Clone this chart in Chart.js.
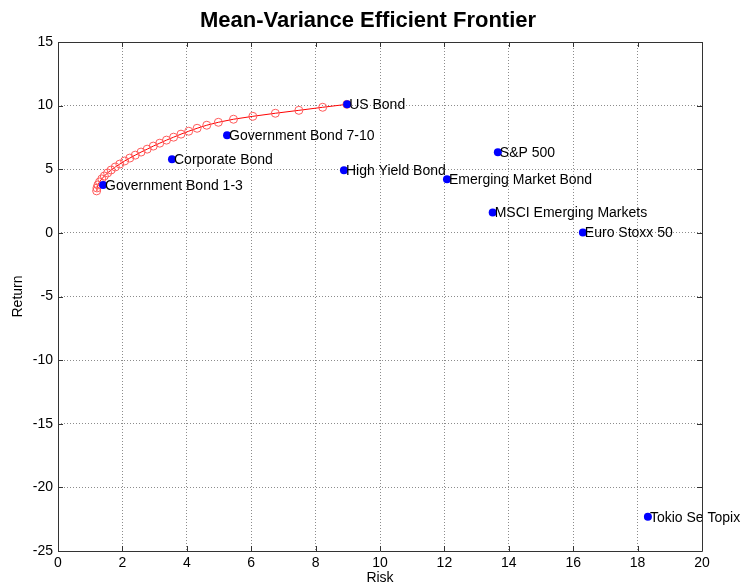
<!DOCTYPE html>
<html>
<head>
<meta charset="utf-8">
<title>Mean-Variance Efficient Frontier</title>
<script src="https://cdn.jsdelivr.net/npm/chart.js@4.4.1/dist/chart.umd.min.js"></script>
<style>
  body { margin: 0; background: #fff; }
  canvas { display: block; }
</style>
</head>
<body>
<canvas id="chart" width="751" height="587"></canvas>
<script>
const assetNames = ["US Bond", "Government Bond 7-10", "Corporate Bond", "Government Bond 1-3",
    "High Yield Bond", "Emerging Market Bond", "S&P 500", "MSCI Emerging Markets",
    "Euro Stoxx 50", "Tokio Se Topix"];
const assetRisk = [8.98, 5.25, 3.54, 1.40, 8.88, 12.08, 13.66, 13.50, 16.30, 18.32];
const assetReturn = [10.10, 7.68, 5.79, 3.77, 4.92, 4.21, 6.34, 1.61, 0.03, -22.30];

const frontierRisk = [1.20, 1.21, 1.24, 1.29, 1.36, 1.44, 1.54, 1.65, 1.78, 1.92,
    2.07, 2.23, 2.40, 2.58, 2.77, 2.96, 3.16, 3.37, 3.59, 3.82,
    4.06, 4.32, 4.62, 4.98, 5.45, 6.05, 6.75, 7.48, 8.22, 8.97];
const frontierReturn = [3.30, 3.53, 3.77, 4.00, 4.24, 4.47, 4.71, 4.94, 5.18, 5.41,
    5.65, 5.88, 6.11, 6.35, 6.58, 6.82, 7.05, 7.29, 7.52, 7.76,
    7.99, 8.22, 8.46, 8.69, 8.93, 9.16, 9.40, 9.63, 9.87, 10.10];

const xRange = [0, 20, 2];
const yRange = [-25, 15, 5];

function toPoints(xs, ys){
    let pts = [];
    for(let i = 0; i < xs.length; i++){
        pts.push({ x: xs[i], y: ys[i] });
    }
    return pts;
}

Chart.defaults.font.family = '"Liberation Sans", Arial, sans-serif';
Chart.defaults.font.size = 14;
Chart.defaults.color = '#000';

// box round the plot, ticks pointing inwards, and the asset names
const matlabLook = {
    id: 'matlabLook',
    afterDatasetsDraw(chart){
        let ctx = chart.ctx;
        let xs = chart.scales.x;
        let ys = chart.scales.y;
        ctx.save();
        ctx.font = '14px "Liberation Sans", Arial, sans-serif';
        ctx.fillStyle = '#000';
        ctx.textAlign = 'left';
        ctx.textBaseline = 'middle';
        for(let i = 0; i < assetNames.length; i++){
            let px = xs.getPixelForValue(assetRisk[i]);
            let py = ys.getPixelForValue(assetReturn[i]);
            ctx.fillText(assetNames[i], px + 2, py + 1);
        }
        ctx.restore();
    },
    afterDraw(chart){
        let ctx = chart.ctx;
        let a = chart.chartArea;
        let xs = chart.scales.x;
        let ys = chart.scales.y;
        ctx.save();
        ctx.strokeStyle = '#333';
        ctx.lineWidth = 1;
        ctx.beginPath();
        ctx.rect(Math.round(a.left) + 0.5, Math.round(a.top) + 0.5,
            Math.round(a.right - a.left), Math.round(a.bottom - a.top));
        xs.ticks.forEach(t => {
            let px = Math.round(xs.getPixelForValue(t.value)) + 0.5;
            ctx.moveTo(px, a.bottom); ctx.lineTo(px, a.bottom - 5);
            ctx.moveTo(px, a.top); ctx.lineTo(px, a.top + 5);
        });
        ys.ticks.forEach(t => {
            let py = Math.round(ys.getPixelForValue(t.value)) + 0.5;
            ctx.moveTo(a.left, py); ctx.lineTo(a.left + 5, py);
            ctx.moveTo(a.right, py); ctx.lineTo(a.right - 5, py);
        });
        ctx.stroke();
        ctx.restore();
    }
};

const ctx = document.getElementById('chart').getContext('2d');
const chart = new Chart(ctx, {
    type: 'scatter',
    data: {
        datasets: [{
            label: 'Assets',
            data: toPoints(assetRisk, assetReturn),
            backgroundColor: '#0000ff',
            borderColor: '#0000ff',
            borderWidth: 0,
            pointRadius: 4,
            order: 1
        }, {
            label: 'Frontier',
            data: toPoints(frontierRisk, frontierReturn),
            showLine: true,
            borderColor: '#ff0000',
            borderWidth: 1,
            pointRadius: 4,
            pointBorderColor: '#ff5a5a',
            pointBackgroundColor: 'rgba(0,0,0,0)',
            pointBorderWidth: 1,
            order: 2
        }]
    },
    options: {
        responsive: false,
        animation: false,
        layout: { padding: { left: 0, right: 15, top: 0, bottom: 0 } },
        plugins: {
            legend: { display: false },
            tooltip: { enabled: false },
            title: {
                display: true,
                text: 'Mean-Variance Efficient Frontier',
                font: { size: 22, weight: 'bold' },
                color: '#000',
                padding: { top: 8, bottom: 7.6 }
            }
        },
        scales: {
            x: {
                type: 'linear',
                min: xRange[0], max: xRange[1],
                ticks: { stepSize: xRange[2], padding: 4, maxRotation: 0 },
                grid: { color: '#8c8c8c', tickLength: 0, drawTicks: false },
                border: { display: false, dash: [1, 2] },
                title: { display: true, text: 'Risk', padding: 0 },
                afterFit: function(scale){ scale.height = 36; }
            },
            y: {
                type: 'linear',
                min: yRange[0], max: yRange[1],
                ticks: { stepSize: yRange[2], padding: 5 },
                grid: { color: '#8c8c8c', tickLength: 0, drawTicks: false },
                border: { display: false, dash: [1, 2] },
                title: { display: true, text: 'Return', padding: { top: 10, bottom: 0 } },
                afterFit: function(scale){ scale.width = 58; }
            },
            spacer: {
                type: 'linear',
                position: 'right',
                min: yRange[0], max: yRange[1],
                ticks: { display: false },
                grid: { display: false, drawTicks: false },
                border: { display: false },
                afterFit: function(scale){ scale.width = 34; }
            }
        }
    },
    plugins: [matlabLook]
});
</script>
</body>
</html>
